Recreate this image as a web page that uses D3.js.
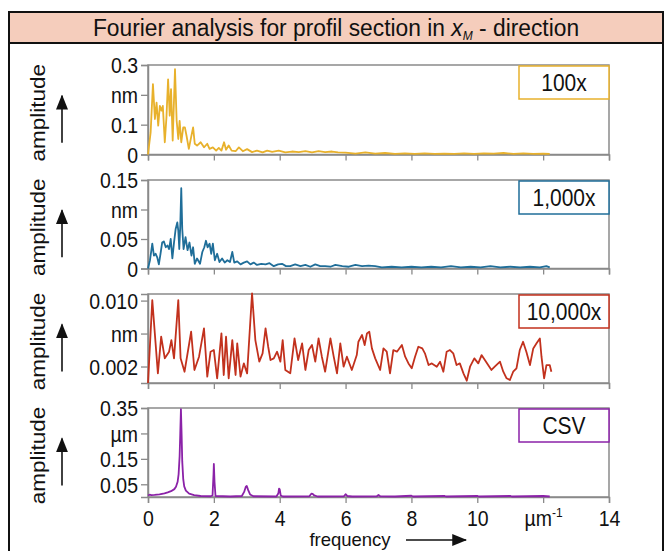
<!DOCTYPE html>
<html><head><meta charset="utf-8">
<script src="https://cdn.jsdelivr.net/npm/d3@7/dist/d3.min.js"></script>
<style>body{margin:0;background:#fff}svg{display:block}text{font-family:"Liberation Sans",Arial,sans-serif}</style>
</head><body>
<svg id="c" width="671" height="551"></svg>
<script>
// ---- data ----
const titleText = "Fourier analysis for profil section in ";
const xTicks = [0, 2, 4, 6, 8, 10, 12, 14];
const xTickLabels = ["0", "2", "4", "6", "8", "10", "µm", "14"];

const s100 = [[0,0],[0.08,0.074],[0.15,0.236],[0.21,0.119],[0.26,0.174],[0.31,0.097],[0.36,0.163],[0.41,0.147],[0.45,0.163],[0.51,0.041],[0.56,0.124],[0.61,0.252],[0.66,0.13],[0.70,0.219],[0.75,0.047],[0.82,0.286],[0.87,0.113],[0.92,0.052],[0.96,0.113],[1.01,0.041],[1.07,0.091],[1.12,0.091],[1.17,0.063],[1.24,0.019],[1.31,0.058],[1.37,0.091],[1.42,0.036],[1.49,0.03],[1.60,0.041],[1.70,0.024],[1.80,0.036],[1.87,0.019],[1.97,0.024],[2.07,0.013],[2.15,0.022],[2.23,0.013],[2.31,0.041],[2.37,0.016],[2.45,0.03],[2.54,0.013],[2.66,0.011],[2.76,0.024],[2.88,0.011],[3.01,0.018],[3.16,0.008],[3.31,0.013],[3.48,0.007],[3.62,0.013],[3.77,0.009],[3.97,0.013],[4.17,0.007],[4.37,0.01],[4.58,0.008],[4.78,0.011],[4.98,0.007],[5.18,0.011],[5.38,0.008],[5.59,0.01],[5.77,0.007],[6.0,0.006],[6.3,0.003],[6.6,0.007],[6.9,0.003],[7.2,0.005],[7.5,0.002],[7.8,0.004],[8.1,0.002],[8.4,0.004],[8.7,0.002],[9.0,0.003],[9.3,0.002],[9.6,0.004],[9.9,0.002],[10.2,0.004],[10.5,0.003],[10.8,0.005],[11.1,0.002],[11.4,0.004],[11.7,0.002],[12.0,0.003],[12.2,0.002]];

const s1000 = [[0,0],[0.06,0.014],[0.13,0.042],[0.18,0.022],[0.23,0.025],[0.28,0.019],[0.33,0.007],[0.38,0.025],[0.43,0.044],[0.48,0.046],[0.54,0.036],[0.59,0.039],[0.64,0.033],[0.69,0.05],[0.74,0.017],[0.79,0.044],[0.84,0.067],[0.89,0.078],[0.92,0.064],[0.95,0.033],[0.98,0.072],[1.01,0.136],[1.04,0.067],[1.08,0.033],[1.14,0.053],[1.20,0.031],[1.26,0.044],[1.32,0.022],[1.37,0.036],[1.42,0.008],[1.49,0.017],[1.58,0.008],[1.65,0.028],[1.71,0.036],[1.76,0.047],[1.81,0.036],[1.87,0.042],[1.92,0.025],[1.97,0.042],[2.03,0.014],[2.10,0.025],[2.17,0.011],[2.25,0.017],[2.33,0.01],[2.41,0.014],[2.49,0.011],[2.56,0.028],[2.62,0.01],[2.71,0.012],[2.81,0.007],[2.91,0.01],[3.01,0.012],[3.11,0.007],[3.21,0.01],[3.31,0.006],[3.44,0.008],[3.57,0.007],[3.69,0.009],[3.82,0.004],[3.95,0.007],[4.07,0.008],[4.19,0.004],[4.32,0.004],[4.47,0.007],[4.63,0.004],[4.78,0.006],[4.93,0.003],[5.08,0.007],[5.23,0.004],[5.38,0.004],[5.54,0.003],[5.69,0.006],[5.9,0.004],[6.1,0.003],[6.3,0.006],[6.5,0.004],[6.7,0.005],[6.9,0.004],[7.1,0.002],[7.4,0.003],[7.7,0.002],[8.0,0.003],[8.3,0.002],[8.6,0.003],[8.9,0.002],[9.2,0.004],[9.5,0.002],[9.8,0.003],[10.1,0.002],[10.4,0.004],[10.7,0.002],[11.0,0.003],[11.3,0.002],[11.6,0.003],[11.9,0.002],[12.1,0.004],[12.2,0.002]];

const s10000 = [[0,0],[0.13,0.01006],[0.30,0.00117],[0.40,0.00562],[0.51,0.00299],[0.64,0.0038],[0.71,0.00521],[0.79,0.00299],[0.92,0.01006],[0.99,0.00299],[1.11,0.00137],[1.31,0.00622],[1.41,0.00158],[1.55,0.00319],[1.70,0.00663],[1.80,0.00077],[1.90,0.0038],[2.00,0.004],[2.10,0.00057],[2.23,0.00602],[2.30,0.00097],[2.37,0.00562],[2.45,0.00057],[2.56,0.00521],[2.66,0.00097],[2.71,0.00481],[2.81,0.00077],[2.91,0.00238],[3.01,0.00117],[3.16,0.01087],[3.26,0.00521],[3.38,0.00259],[3.48,0.0036],[3.57,0.00663],[3.65,0.0044],[3.72,0.00279],[3.82,0.00299],[3.92,0.0038],[4.02,0.00259],[4.09,0.00521],[4.17,0.00158],[4.32,0.00117],[4.45,0.00541],[4.56,0.00279],[4.68,0.00481],[4.78,0.00158],[4.88,0.004],[4.98,0.00461],[5.08,0.00259],[5.18,0.00541],[5.28,0.00319],[5.38,0.00137],[5.54,0.00541],[5.64,0.00319],[5.74,0.00117],[5.84,0.00481],[5.94,0.00198],[6.04,0.00319],[6.19,0.00158],[6.34,0.00339],[6.39,0.00501],[6.50,0.00582],[6.58,0.00461],[6.65,0.00602],[6.72,0.00622],[6.80,0.0042],[6.90,0.00299],[7.05,0.00158],[7.15,0.0042],[7.25,0.0038],[7.35,0.00117],[7.45,0.004],[7.56,0.0038],[7.71,0.00461],[7.81,0.00319],[7.91,0.00238],[8.01,0.00178],[8.11,0.00319],[8.21,0.0044],[8.33,0.0042],[8.41,0.0036],[8.52,0.00218],[8.62,0.00238],[8.77,0.00198],[8.87,0.00259],[8.97,0.00137],[9.07,0.0038],[9.17,0.004],[9.27,0.0036],[9.37,0.00218],[9.47,0.00238],[9.58,0.00117],[9.68,0.00028],[9.78,0.00198],[9.91,0.00299],[10.03,0.00238],[10.13,0.00339],[10.23,0.00279],[10.33,0.00218],[10.43,0.00158],[10.53,0.00198],[10.69,0.00259],[10.79,0.00137],[10.89,0.00057],[10.99,0.00036],[11.09,0.00137],[11.19,0.00178],[11.29,0.004],[11.39,0.00501],[11.49,0.0038],[11.60,0.00218],[11.70,0.0042],[11.80,0.00481],[11.90,0.00541],[11.95,0.00319],[12.03,0.00057],[12.10,0.00218],[12.20,0.00218],[12.25,0.00137]];

const sCSV = [[0,0.006],[0.05,0.009],[0.1,0.007],[0.2,0.008],[0.35,0.01],[0.5,0.014],[0.6,0.018],[0.7,0.023],[0.8,0.031],[0.85,0.04],[0.9,0.06],[0.93,0.09],[0.96,0.16],[0.98,0.25],[1.0,0.345],[1.02,0.25],[1.04,0.14],[1.07,0.07],[1.1,0.042],[1.15,0.025],[1.25,0.013],[1.4,0.007],[1.6,0.004],[1.9,0.003],[1.96,0.006],[1.99,0.09],[2.0,0.13],[2.02,0.06],[2.05,0.004],[2.5,0.002],[2.85,0.004],[2.92,0.02],[2.97,0.04],[3.0,0.043],[3.04,0.028],[3.1,0.01],[3.2,0.003],[3.9,0.002],[3.96,0.015],[3.98,0.033],[4.0,0.03],[4.03,0.006],[4.1,0.002],[4.9,0.003],[4.96,0.013],[5.0,0.012],[5.05,0.006],[5.15,0.002],[5.95,0.003],[6.0,0.011],[6.05,0.004],[6.2,0.002],[6.95,0.003],[7.0,0.008],[7.05,0.003],[7.5,0.002],[8.0,0.005],[8.05,0.002],[9.0,0.004],[9.05,0.002],[10,0.004],[10.05,0.002],[11,0.004],[11.05,0.002],[12,0.004],[12.2,0.002]];

const panelNames = ["100x", "1,000x", "10,000x", "CSV"];
const panelColors = ["#e8b12c", "#1f6e99", "#c2311d", "#8b22a8"];
const panelDomains = [[0, 0.3], [0, 0.15], [0, 0.0108], [0, 0.35]];
const panelTicks = [[0, 0.1, 0.2, 0.3], [0, 0.05, 0.1, 0.15], [0.002, 0.006, 0.010], [0.05, 0.15, 0.25, 0.35]];
const panelTickLabels = [["0", "0.1", "nm", "0.3"], ["0", "0.05", "nm", "0.15"], ["0.002", "nm", "0.010"], ["0.05", "0.15", "µm", "0.35"]];
const panelSeries = [s100, s1000, s10000, sCSV];

// ---- layout ----
const svg = d3.select("#c");
const L = 148, R = 609;
const tops = [65, 180, 294, 408], bots = [154.5, 268.5, 383, 497];
const SY = 1.1; // vertical text stretch
const grey = "#8a8a8a";

// outer frame and title band
svg.append("rect").attr("x", 9).attr("y", 12).attr("width", 654).attr("height", 31).attr("fill", "#f5cdbc");
svg.append("rect").attr("x", 9).attr("y", 12).attr("width", 654).attr("height", 560).attr("fill", "none").attr("stroke", "#111").attr("stroke-width", 2);
svg.append("line").attr("x1", 9).attr("x2", 663).attr("y1", 43).attr("y2", 43).attr("stroke", "#111").attr("stroke-width", 2);
const tt = svg.append("text").attr("text-anchor", "middle").attr("font-size", 22.8).attr("fill", "#111")
  .attr("transform", `translate(336,36) scale(1,1.02)`);
tt.append("tspan").text(titleText);
tt.append("tspan").attr("font-style", "italic").text("x");
tt.append("tspan").attr("font-style", "italic").attr("font-size", 12).attr("dy", 4).text("M");
tt.append("tspan").attr("dy", -4).text(" - direction");

const x = d3.scaleLinear().domain([0, 14]).range([L, R]);

svg.append("defs").append("marker").attr("id", "ah").attr("viewBox", "0 0 12 16").attr("refX", 11).attr("refY", 8)
  .attr("markerUnits", "userSpaceOnUse").attr("markerWidth", 15).attr("markerHeight", 12).attr("orient", "auto")
  .attr("preserveAspectRatio", "none")
  .append("path").attr("d", "M0,0 L12,8 L0,16 z").attr("fill", "#111");

panelNames.forEach((name, i) => {
  const y = d3.scaleLinear().domain(panelDomains[i]).range([bots[i], tops[i]]);
  const g = svg.append("g");
  // frame
  g.append("rect").attr("x", L).attr("y", tops[i]).attr("width", R - L).attr("height", bots[i] - tops[i])
    .attr("fill", "none").attr("stroke", grey).attr("stroke-width", 1.5);
  // y axis
  const ya = g.append("g").attr("transform", `translate(${L},0)`)
    .call(d3.axisLeft(y).tickValues(panelTicks[i]).tickSize(7).tickFormat((d, k) => panelTickLabels[i][k]));
  ya.select(".domain").attr("stroke", grey).attr("stroke-width", 1.5);
  ya.selectAll(".tick line").attr("stroke", grey).attr("stroke-width", 1.3);
  ya.selectAll(".tick text").attr("font-size", 19.5).attr("fill", "#111").attr("font-family", "Liberation Sans, Arial, sans-serif")
    .attr("x", null).attr("dy", null).attr("dominant-baseline", "central")
    .attr("transform", `translate(-10,0) scale(1,${SY})`);
  // x axis ticks
  const xa = g.append("g").attr("transform", `translate(0,${bots[i]})`)
    .call(d3.axisBottom(x).tickValues(xTicks).tickSize(6).tickFormat(i === 3 ? (d, k) => xTickLabels[k] : ""));
  xa.select(".domain").attr("stroke", grey).attr("stroke-width", 1.5);
  xa.selectAll(".tick line").attr("stroke", grey).attr("stroke-width", 1.3);
  if (i === 3) {
    xa.selectAll(".tick text").attr("font-size", 19.5).attr("fill", "#111").attr("font-family", "Liberation Sans, Arial, sans-serif")
      .attr("y", null).attr("dy", null).attr("transform", `translate(0,28.5) scale(1,${SY})`);
    const mu = xa.selectAll(".tick text").filter((d) => d === 12);
    mu.append("tspan").attr("font-size", 12).attr("dy", -8).text("-1");
  }
  // series line
  g.append("path").datum(panelSeries[i]).attr("fill", "none").attr("stroke", panelColors[i]).attr("stroke-width", 1.8)
    .attr("stroke-linejoin", "round")
    .attr("d", d3.line().x(d => x(d[0])).y(d => y(d[1])));
  // legend box
  g.append("rect").attr("x", R - 90).attr("y", tops[i] + 1).attr("width", 90).attr("height", 33)
    .attr("fill", "#fff").attr("stroke", panelColors[i]).attr("stroke-width", 1.5);
  g.append("text").attr("text-anchor", "middle").attr("dominant-baseline", "central").attr("font-size", 21).attr("fill", "#111")
    .attr("transform", `translate(${R - 45},${tops[i] + 18}) scale(1,${SY})`).text(name);
  // amplitude label and arrow
  const cy = (tops[i] + bots[i]) / 2;
  g.append("text").attr("text-anchor", "middle").attr("dominant-baseline", "central").attr("font-size", 20.5).attr("fill", "#111")
    .attr("transform", `translate(38,${cy + 3}) scale(1,${SY}) rotate(-90)`).text("amplitude");
  g.append("line").attr("x1", 62).attr("x2", 62).attr("y1", cy + 33).attr("y2", cy - 14)
    .attr("stroke", "#111").attr("stroke-width", 1.6).attr("marker-end", "url(#ah)");
});

// frequency label
svg.append("text").attr("text-anchor", "middle").attr("font-size", 18.5).attr("fill", "#111")
  .attr("x", 350).attr("y", 546).text("frequency");
svg.append("line").attr("x1", 406).attr("x2", 466).attr("y1", 540).attr("y2", 540)
  .attr("stroke", "#111").attr("stroke-width", 1.6).attr("marker-end", "url(#ah)");
</script>
</body></html>
